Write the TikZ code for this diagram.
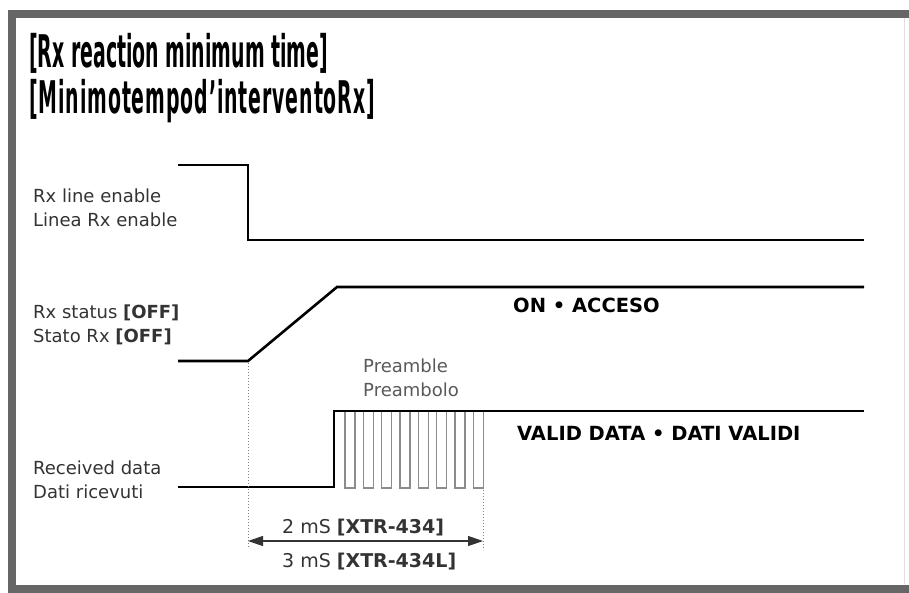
\documentclass[tikz,border=0pt]{standalone}
\usepackage{fontspec}
\setmainfont{DejaVu Sans}
\newfontfamily\titlefont[FakeStretch=0.42]{DejaVu Sans}
\usetikzlibrary{arrows.meta}

\tikzset{
  signal/.style={line width=2.6pt, line join=miter},
  pulse/.style={black!45, line width=1.3pt},
  guide/.style={black!50, line width=1pt, dotted},
  lbl/.style={anchor=west, align=left, inner sep=0pt, text=black!80,
    font=\fontsize{18}{24}\selectfont},
  state/.style={anchor=west, inner sep=0pt, font=\bfseries\fontsize{19.5}{24}\selectfont},
  heading/.style={anchor=base west, inner sep=0pt,
    font=\titlefont\bfseries\fontsize{45}{46}\selectfont},
}

\begin{document}
\begin{tikzpicture}[x=1pt, y=-1pt] % 按像素取坐标, y 向下
  \useasboundingbox (0,0) rectangle (909,592);
  % 外框
  \draw[line width=8pt, black!60] (909,14) -- (12,14) -- (12,588.5) -- (909,588.5);
  \draw[line width=1pt, black!12] (904,18) -- (904,584);
  % 标题
  \node[heading] (title1) at (29,67) {[Rx reaction minimum time]};
  \node[heading] (title2) at (29,113)
    {\addfontfeature{LetterSpace=2}[Minimotempod’interventoRx]};
  % 左边的信号名
  \node[lbl] (enable) at (33,207.5) {Rx line enable\\Linea Rx enable};
  \node[lbl] (status) at (33,325) {Rx status \textbf{[OFF]}\\Stato Rx \textbf{[OFF]}};
  \node[lbl] (data) at (33,480) {Received data\\Dati ricevuti};
  % 三条波形
  \draw[signal] (178,165) -- (248,165) -- (248,240) -- (864,240);
  \draw[signal] (178,361) -- (248,361) -- (337,287) -- (864,287);
  \draw[signal] (178,487) -- (334,487) -- (334,411) -- (864,411);
  \foreach \i in {0,...,7} {
    \draw[pulse] ({345+18.33*\i},412) -- ++(0,76) -- ++(10,0) -- ++(0,-76);
  }
  \node[state] (on) at (513,305) {ON • ACCESO};
  \node[state] (valid) at (517,433) {VALID DATA • DATI VALIDI};
  \node[lbl, text=black!65] (pre) at (363,377.5) {Preamble\\Preambolo};
  % 时间间隔
  \coordinate (t0) at (248,363);
  \coordinate (t0b) at (248,548);
  \coordinate (t1) at (483,490);
  \coordinate (t1b) at (483,550);
  \draw[guide] (t0) -- (t0b);
  \draw[guide] (t1) -- (t1b);
  \coordinate (a0) at (248,541);
  \coordinate (a1) at (483,541);
  \draw[{Triangle[length=15pt,width=10pt]}-{Triangle[length=15pt,width=10pt]},
    line width=1.2pt, black!80] (a0) -- (a1);
  \node[lbl, font=\fontsize{19}{24}\selectfont] (t2ms) at (282,528) {2 mS \textbf{[XTR-434]}};
  \node[lbl, font=\fontsize{19}{24}\selectfont] (t3ms) at (282,562) {3 mS \textbf{[XTR-434L]}};
\end{tikzpicture}
\end{document}
